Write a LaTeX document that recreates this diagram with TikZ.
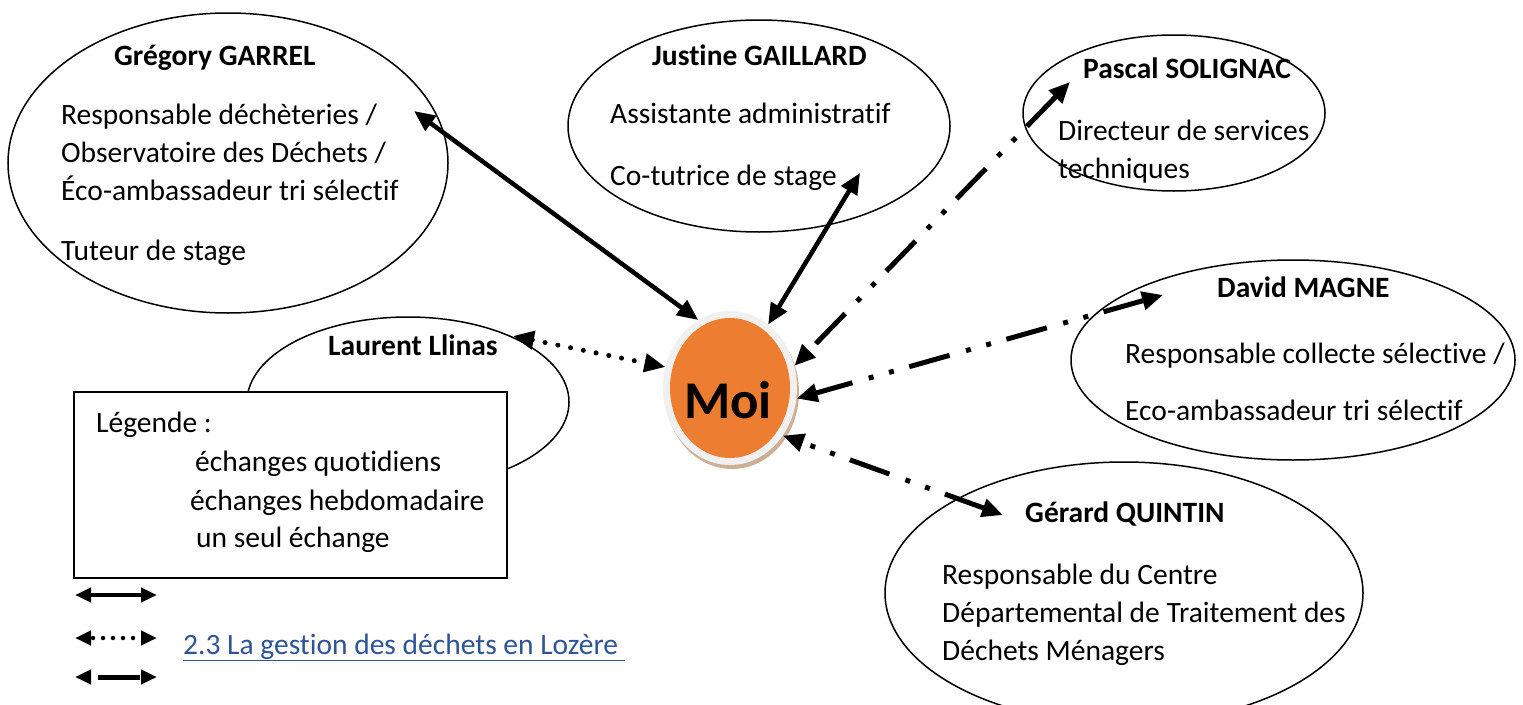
\documentclass[tikz,border=0pt]{standalone}
\usepackage{fontspec}
\setmainfont{Carlito}[Ligatures=NoCommon]
\usetikzlibrary{arrows.meta,shapes.geometric}

\definecolor{moiorange}{RGB}{237,125,49}
\definecolor{moiring}{RGB}{240,240,240}
\definecolor{moishadow}{RGB}{205,175,150}
\definecolor{linkblue}{RGB}{47,84,150}

\tikzset{
  bigtip/.tip={Triangle[length=21pt,width=18pt]},
  legtip/.tip={Triangle[length=16pt,width=14pt]},
  pers/.style={draw, ellipse, line width=1.5pt, inner sep=0pt},
  txt/.style={anchor=base west, inner sep=0pt, align=left, font=\fontsize{29.5}{38}\selectfont},
  persname/.style={txt, font=\fontsize{29.5}{38}\selectfont\bfseries},
  daily/.style={line width=4.5pt, bigtip-bigtip},
  weekly/.style={line width=5pt, line cap=round, dash pattern=on 0pt off 13pt, bigtip-bigtip},
  once/.style={line width=5pt, dash pattern=on 42pt off 16pt on 5pt off 16pt on 5pt off 17pt, bigtip-bigtip},
}

\begin{document}
\begin{tikzpicture}[x=1pt,y=-1pt]
    \useasboundingbox (0,0) rectangle (1523,704);

    % ellipses of the people
    \node[pers, minimum width=440pt, minimum height=300pt] (gregory) at (228,163) {};
    \node[pers, minimum width=382pt, minimum height=212pt] (justine) at (759,126) {};
    \node[pers, minimum width=302pt, minimum height=156pt] (pascal) at (1174,113) {};
    \node[pers, minimum width=444pt, minimum height=200pt] (david) at (1293,360) {};
    \node[pers, minimum width=478pt, minimum height=262pt] (gerard) at (1124,593) {};
    \node[pers, minimum width=322pt, minimum height=170pt] (laurent) at (408,402) {};

    % legend box
    \draw[line width=2pt, fill=white] (74,392) rectangle (507,578);

    % me
    \fill[moishadow] (732,392) ellipse[x radius=67, y radius=77];
    \node[ellipse, fill=moiring, minimum width=134pt, minimum height=154pt, inner sep=0pt] (moi) at (730,388) {};
    \fill[moiorange] (730,388) ellipse[x radius=60, y radius=70];
    \node[inner sep=0pt, font=\fontsize{53}{60}\selectfont\bfseries] (moitxt) at (728,400) {Moi};

    % arrow ends
    \coordinate (gTip) at (414,111);
    \coordinate (jTip) at (860,173);
    \coordinate (pTip) at (1070,82);
    \coordinate (dTip) at (1163,295);
    \coordinate (qTip) at (1003,515);
    \coordinate (lTip) at (513,336);

    \draw[daily] (gTip) -- (moi.115);
    \draw[daily] (jTip) -- (moi.59);
    \draw[weekly] (lTip) -- (moi.162);
    \draw[once] (pTip) -- (moi.19);
    \draw[once] (dTip) -- (moi.-9);
    \draw[once] (qTip) -- (moi.-42);

    % texts (base = last line)
    \node[persname] (gName) at (114,65) {Grégory GARREL};
    \node[txt] (gJob) at (61,200) {Responsable déchèteries /\\Observatoire des Déchets /\\Éco-ambassadeur tri sélectif};
    \node[txt] (gStage) at (61,260) {Tuteur de stage};

    \node[persname] (jName) at (652,65) {Justine GAILLARD};
    \node[txt] (jJob) at (610,123) {Assistante administratif};
    \node[txt] (jStage) at (610,185) {Co-tutrice de stage};

    \node[persname] (pName) at (1083,78) {Pascal SOLIGNAC};
    \node[txt] (pJob) at (1058,178) {Directeur de services\\techniques};

    \node[persname] (dName) at (1217,297) {David MAGNE};
    \node[txt] (dJob) at (1125,363) {Responsable collecte sélective /};
    \node[txt] (dJob2) at (1125,420) {Eco-ambassadeur tri sélectif};

    \node[persname] (qName) at (1025,522) {Gérard QUINTIN};
    \node[txt] (qJob) at (942,660) {Responsable du Centre\\Départemental de Traitement des\\Déchets Ménagers};

    \node[persname] (lName) at (328,355) {Laurent Llinas};

    % legend
    \node[txt] (legTitle) at (96,432) {Légende :};
    \node[txt] (legDaily) at (195,471) {échanges quotidiens};
    \node[txt] (legWeekly) at (190,510) {échanges hebdomadaire};
    \node[txt] (legOnce) at (196,547) {un seul échange};

    \coordinate (la1) at (75,595);
    \coordinate (la2) at (157,595);
    \coordinate (lb1) at (75,638);
    \coordinate (lb2) at (157,638);
    \coordinate (lc1) at (75,677);
    \coordinate (lc2) at (157,677);
    \draw[line width=4pt, legtip-legtip] (la1) -- (la2);
    \draw[line width=4.5pt, line cap=round, dash pattern=on 0pt off 10pt, dash phase=-3pt, legtip-legtip] (lb1) -- (lb2);
    \draw[line width=5pt, dash pattern=on 42pt off 16pt on 5pt off 16pt on 5pt off 17pt, dash phase=93pt, legtip-legtip] (lc1) -- (lc2);

    \node[txt, text=linkblue] (link) at (183,654) {\underline{2.3 La gestion des déchets en Lozère\ }};
\end{tikzpicture}
\end{document}
